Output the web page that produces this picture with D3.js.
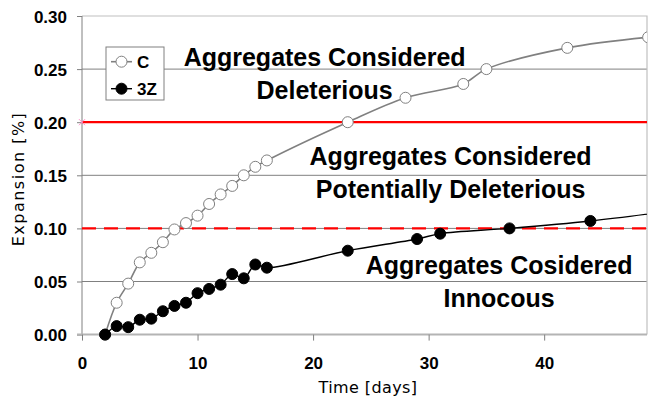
<!DOCTYPE html>
<html>
<head>
<meta charset="utf-8">
<script src="https://cdn.jsdelivr.net/npm/d3@7.9.0/dist/d3.min.js"></script>
<style>
  html, body { margin: 0; padding: 0; background: #fff; }
  svg { display: block; }
  .bold { font-family: "Liberation Sans", Arial, sans-serif; font-weight: bold; fill: #000; }
  .title { font-family: "DejaVu Sans", Verdana, sans-serif; fill: #000; }
</style>
</head>
<body>
<div id="chart"></div>
<script>
/* =========================
   DATA
========================= */
const cDays = [2, 3, 4, 5, 6, 7, 8, 9, 10, 11, 12, 13, 14, 15, 16, 23, 28, 33, 35, 42, 49];
const cValues = [0, 0.030, 0.048, 0.068, 0.077, 0.087, 0.099, 0.105, 0.112, 0.123, 0.132,
  0.140, 0.150, 0.158, 0.164, 0.200, 0.223, 0.236, 0.250, 0.270, 0.280];

const z3Days = [2, 3, 4, 5, 6, 7, 8, 9, 10, 11, 12, 13, 14, 15, 16, 23, 29, 31, 37, 44, 50];
const z3Values = [0, 0.008, 0.007, 0.014, 0.015, 0.022, 0.027, 0.030, 0.039, 0.043, 0.047,
  0.057, 0.053, 0.066, 0.063, 0.079, 0.090, 0.095, 0.100, 0.107, 0.115];

const seriesNames = ['C', '3Z'];
const limitValues = [0.20, 0.10];
const xTicks = [0, 10, 20, 30, 40];
const yTicks = [0, 0.05, 0.10, 0.15, 0.20, 0.25, 0.30];

const zoneLabels = [
  ['Aggregates Considered', 'Deleterious'],
  ['Aggregates Considered', 'Potentially Deleterious'],
  ['Aggregates Cosidered', 'Innocous']
];

/* =========================
   LAYOUT
========================= */
const width = 648;
const height = 401;
const plot = { left: 82, right: 647, top: 16, bottom: 334.6 };

const svg = d3.select('#chart').append('svg')
  .attr('width', width)
  .attr('height', height);

const xScale = d3.scaleLinear().domain([0, 48.9]).range([plot.left, plot.right]);
const yScale = d3.scaleLinear().domain([0, 0.30]).range([plot.bottom, plot.top]);

/* =========================
   GRID + FRAME
========================= */
svg.append('g')
  .selectAll('line')
  .data(yTicks.filter(d => d > 0 && d < 0.30))
  .join('line')
  .attr('x1', plot.left).attr('x2', plot.right)
  .attr('y1', d => yScale(d)).attr('y2', d => yScale(d))
  .attr('stroke', '#808080')
  .attr('stroke-width', 1);

// top + right border
svg.append('path')
  .attr('d', `M${plot.left},${plot.top}H${plot.right}V${plot.bottom}`)
  .attr('fill', 'none')
  .attr('stroke', '#c0c0c0')
  .attr('stroke-width', 1.2);

/* Y AXIS */
const yAxis = svg.append('g')
  .attr('transform', `translate(${plot.left},0)`)
  .call(d3.axisLeft(yScale).tickValues(yTicks).tickSize(5).tickPadding(10).tickFormat(d3.format('.2f')));
yAxis.select('.domain').attr('stroke', '#808080').attr('d', `M0,${plot.top}V${plot.bottom}`);
yAxis.selectAll('line').attr('stroke', '#808080');
yAxis.selectAll('text').attr('class', 'bold').style('font-size', '17px').attr('dy', '0.36em');

/* X AXIS */
const xAxis = svg.append('g')
  .attr('transform', `translate(0,${plot.bottom})`)
  .call(d3.axisBottom(xScale).tickValues(xTicks).tickSize(6).tickPadding(16));
xAxis.select('.domain').attr('stroke', '#b4b4b4').attr('stroke-width', 2)
  .attr('d', `M${plot.left - 5},0H${plot.right}`);
xAxis.selectAll('line').attr('stroke', '#808080');
xAxis.selectAll('text').attr('class', 'bold').style('font-size', '17px');

/* axis titles */
svg.append('text')
  .attr('class', 'title')
  .attr('x', 368).attr('y', 393)
  .attr('text-anchor', 'middle')
  .style('font-size', '16px')
  .style('letter-spacing', '0.4px')
  .text('Time [days]');

svg.append('text')
  .attr('class', 'title')
  .attr('transform', 'translate(24,179) rotate(-90)')
  .attr('text-anchor', 'middle')
  .style('font-size', '16px')
  .style('letter-spacing', '1.5px')
  .text('Expansion [%]');

/* =========================
   LIMIT LINES
========================= */
svg.append('g')
  .selectAll('line')
  .data(limitValues)
  .join('line')
  .attr('x1', plot.left).attr('x2', plot.right)
  .attr('y1', d => yScale(d)).attr('y2', d => yScale(d))
  .attr('stroke', '#ff0000')
  .attr('stroke-width', 2.2)
  .attr('stroke-dasharray', (d, i) => i === 1 ? '14,8' : null);

// small pink marker at the start of the 0.20 line
svg.append('path')
  .attr('transform', `translate(${plot.left},${yScale(limitValues[0])})`)
  .attr('d', 'M-3,-3L3,3M-3,3L3,-3')
  .attr('stroke', '#ff8cc8')
  .attr('stroke-width', 1);

/* =========================
   ZONE LABELS
========================= */
const zonePos = [
  { x: 21.0, y: 0.2527 },
  { x: 31.9, y: 0.1595 },
  { x: 36.1, y: 0.0570 }
];

zoneLabels.forEach((lines, i) => {
  const t = svg.append('text')
    .attr('class', 'bold')
    .attr('text-anchor', 'middle')
    .style('font-size', '25px');
  lines.forEach((s, j) => {
    t.append('tspan')
      .attr('x', xScale(zonePos[i].x))
      .attr('y', yScale(zonePos[i].y) + j * 32.5)
      .text(s);
  });
});

/* =========================
   SERIES
========================= */
svg.append('clipPath').attr('id', 'clip')
  .append('rect')
  .attr('x', plot.left).attr('y', 0)
  .attr('width', plot.right - plot.left).attr('height', height);

const series = [
  { name: seriesNames[0], pts: cDays.map((d, i) => [d, cValues[i]]), color: '#808080', fill: '#fff', width: 1.6 },
  { name: seriesNames[1], pts: z3Days.map((d, i) => [d, z3Values[i]]), color: '#000', fill: '#000', width: 1.4 }
];

const line = d3.line()
  .x(d => xScale(d[0]))
  .y(d => yScale(d[1]))
  .curve(d3.curveCatmullRom.alpha(0.5));

const plotG = svg.append('g').attr('clip-path', 'url(#clip)');

series.forEach(s => {
  plotG.append('path')
    .datum(s.pts)
    .attr('d', line)
    .attr('fill', 'none')
    .attr('stroke', s.color)
    .attr('stroke-width', s.width);

  plotG.append('g')
    .selectAll('circle')
    .data(s.pts)
    .join('circle')
    .attr('cx', d => xScale(d[0]))
    .attr('cy', d => yScale(d[1]))
    .attr('r', 5.5)
    .attr('fill', s.fill)
    .attr('stroke', s.color)
    .attr('stroke-width', 1);
});

/* =========================
   LEGEND
========================= */
const legend = svg.append('g').attr('transform', 'translate(106,47)');
legend.append('rect')
  .attr('width', 58).attr('height', 53)
  .attr('fill', '#fff')
  .attr('stroke', '#808080')
  .attr('stroke-width', 1);

series.forEach((s, i) => {
  const g = legend.append('g').attr('transform', `translate(0,${14.7 + i * 27})`);
  g.append('line')
    .attr('x1', 5).attr('x2', 26)
    .attr('stroke', s.color).attr('stroke-width', s.width);
  g.append('circle')
    .attr('cx', 15.5).attr('r', 5.5)
    .attr('fill', s.fill).attr('stroke', s.color);
  g.append('text')
    .attr('class', 'bold')
    .attr('x', 31).attr('dy', '0.36em')
    .style('font-size', '17px')
    .text(s.name);
});
</script>
</body>
</html>
